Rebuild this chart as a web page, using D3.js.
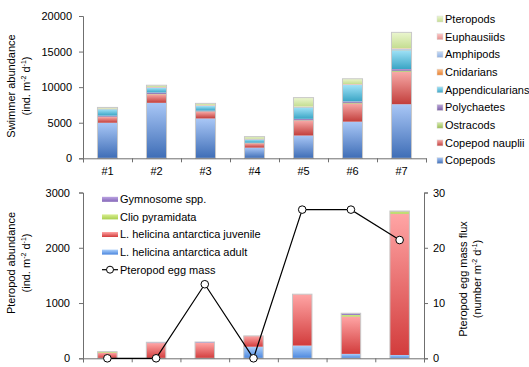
<!DOCTYPE html>
<html><head><meta charset="utf-8">
<script src="https://cdn.jsdelivr.net/npm/d3@7"></script>
<style>
body{margin:0;background:#fff;}
svg{display:block;font-family:"Liberation Sans",Arial,sans-serif;}
</style></head>
<body>
<svg id="chart" width="529" height="367"></svg>
<script>
// ---------- DATA ----------
const stations = ["#1","#2","#3","#4","#5","#6","#7"];
const swimmerSeries = ["Copepods","Copepod nauplii","Ostracods","Polychaetes","Appendicularians","Cnidarians","Amphipods","Euphausiids","Pteropods"];
const copepods        = [5000, 7800, 5600, 1500, 3200, 5150, 7600];
const copepodNauplii  = [800, 1200, 950, 600, 2100, 2550, 4550];
const ostracods       = [50, 50, 50, 30, 50, 100, 150];
const polychaetes     = [150, 200, 100, 60, 200, 200, 250];
const appendicularians= [900, 650, 650, 450, 1600, 2300, 2650];
const cnidarians      = [20, 20, 20, 20, 30, 30, 50];
const amphipods       = [30, 50, 50, 30, 50, 50, 100];
const euphausiids     = [50, 50, 50, 60, 50, 50, 100];
const pteropods       = [150, 250, 250, 300, 1250, 750, 2250];
const swimmerTicks = [0, 5000, 10000, 15000, 20000];

const pteropodSeries = ["L. helicina antarctica adult","L. helicina antarctica juvenile","Clio pyramidata","Gymnosome spp."];
const lhAdult    = [0, 0, 0, 210, 230, 80, 60];
const lhJuvenile = [100, 275, 280, 195, 930, 675, 2555];
const clio       = [15, 0, 0, 0, 0, 30, 45];
const gymnosome  = [5, 15, 15, 0, 0, 30, 5];
const eggMass    = [0, 0, 13.4, 0, 26.9, 26.9, 21.4];
const pteropodTicks = [0, 1000, 2000, 3000];
const eggTicks = [0, 10, 20, 30];

// ---------- STYLE ----------
const swimmerColors = {
  "Copepods":["#a9c7f6","#3e6db6"],
  "Copepod nauplii":["#f7a9a7","#c23e3b"],
  "Ostracods":["#d9eeb0","#99bb55"],
  "Polychaetes":["#bba6da","#7a5fa6"],
  "Appendicularians":["#a0e2f7","#3aa5c5"],
  "Cnidarians":["#fcc08c","#e88030"],
  "Amphipods":["#c8dcf6","#8eafe0"],
  "Euphausiids":["#fbc6c5","#e48e8c"],
  "Pteropods":["#ebf6cf","#c4dd90"]
};
const pteropodColors = {
  "L. helicina antarctica adult":["#acd0fb","#4a86de"],
  "L. helicina antarctica juvenile":["#ffa5a5","#d23c3c"],
  "Clio pyramidata":["#d8ee90","#a9cf4f"],
  "Gymnosome spp.":["#bba3e2","#8466b8"]
};

const svg = d3.select("#chart");
const defs = svg.append("defs");
function grad(id, c){
  const g = defs.append("linearGradient").attr("id",id).attr("x1",0).attr("y1",0).attr("x2",0).attr("y2",1);
  g.append("stop").attr("offset","0%").attr("stop-color",c[0]);
  g.append("stop").attr("offset","100%").attr("stop-color",c[1]);
}
swimmerSeries.forEach((s,i)=>grad("sg"+i, swimmerColors[s]));
pteropodSeries.forEach((s,i)=>grad("pg"+i, pteropodColors[s]));

const FS = 11;
const axisCol = "#6f6f6f";

// ---------- TOP CHART ----------
const swimmerData = [copepods,copepodNauplii,ostracods,polychaetes,appendicularians,cnidarians,amphipods,euphausiids,pteropods];
const rowsTop = stations.map((st,i)=>{const o={station:st}; swimmerSeries.forEach((s,k)=>o[s]=swimmerData[k][i]); return o;});
const stackTop = d3.stack().keys(swimmerSeries)(rowsTop);

const xT = d3.scaleBand().domain(stations).range([83,426]).paddingInner(0.59).paddingOuter(0.295);
const yT = d3.scaleLinear().domain([0,20000]).range([158.3,16]);
const xTb = d3.scaleLinear().domain([0,7]).range([83,426]);

const gTop = svg.append("g");
stackTop.forEach((layer,k)=>{
  gTop.selectAll(null).data(layer).join("rect")
    .attr("x",d=>xT(d.data.station)).attr("width",xT.bandwidth())
    .attr("y",d=>yT(d[1])).attr("height",d=>Math.max(0,yT(d[0])-yT(d[1])))
    .attr("fill","url(#sg"+k+")");
});
const topLayer = stackTop[stackTop.length-1];
gTop.selectAll(null).data(topLayer).join("rect")
  .attr("x",d=>xT(d.data.station)).attr("width",xT.bandwidth())
  .attr("y",d=>yT(d[1])).attr("height",d=>yT(0)-yT(d[1]))
  .attr("fill","none").attr("stroke","#c8c8c8").attr("stroke-width",1);

const yAxT = svg.append("g").attr("transform","translate(83,0)")
  .call(d3.axisLeft(yT).tickValues(swimmerTicks).tickSize(4).tickPadding(7).tickFormat(d3.format("d")));
const xAxT = svg.append("g").attr("transform","translate(0,158.3)")
  .call(d3.axisBottom(xTb).ticks(7).tickSize(4).tickFormat(""));
const xLabT = svg.append("g").attr("transform","translate(0,158.3)")
  .call(d3.axisBottom(xT).tickSize(0).tickPadding(9));
xLabT.select(".domain").remove();
[yAxT,xAxT,xLabT].forEach(g=>{
  g.selectAll(".domain").attr("stroke",axisCol);
  g.selectAll(".tick line").attr("stroke",axisCol);
  g.selectAll("text").attr("font-size",FS).attr("fill","#000").attr("font-family","Liberation Sans, Arial, sans-serif");
});

function supTitle(g, line1, line2pre, x1, x2, cy, rot){
  g.append("text").attr("transform",`translate(${x1},${cy}) rotate(${rot})`)
    .attr("text-anchor","middle").attr("font-size",FS).text(line1);
  const t2 = g.append("text").attr("transform",`translate(${x2},${cy}) rotate(${rot})`)
    .attr("text-anchor","middle").attr("font-size",FS);
  t2.append("tspan").text(line2pre+" m");
  t2.append("tspan").attr("font-size",7).attr("dy",-4).text("-2");
  t2.append("tspan").attr("dy",4).text(" d");
  t2.append("tspan").attr("font-size",7).attr("dy",-4).text("-1");
  t2.append("tspan").attr("dy",4).text(")");
}
supTitle(svg, "Swimmer abundance", "(ind.", 15, 30, 86, -90);

const legT = svg.append("g");
swimmerSeries.slice().reverse().forEach((s,i)=>{
  const k = swimmerSeries.indexOf(s);
  const y = 19 + i*17.7;
  legT.append("rect").attr("x",437).attr("y",y-3).attr("width",6).attr("height",6)
    .attr("fill","url(#sg"+k+")").attr("stroke","#ddd").attr("stroke-width",0.5);
  legT.append("text").attr("x",445).attr("y",y).attr("dy","0.35em").attr("font-size",FS).text(s);
});

// ---------- BOTTOM CHART ----------
const pteroData = [lhAdult,lhJuvenile,clio,gymnosome];
const rowsBot = stations.map((st,i)=>{const o={station:st}; pteropodSeries.forEach((s,k)=>o[s]=pteroData[k][i]); return o;});
const stackBot = d3.stack().keys(pteropodSeries)(rowsBot);

const xB = d3.scaleBand().domain(stations).range([83,424]).paddingInner(0.6).paddingOuter(0.3);
const yB = d3.scaleLinear().domain([0,3000]).range([358.3,192.5]);
const yE = d3.scaleLinear().domain([0,30]).range([358.3,192.5]);
const xBb = d3.scaleLinear().domain([0,7]).range([83,424]);

const gBot = svg.append("g");
stackBot.forEach((layer,k)=>{
  gBot.selectAll(null).data(layer).join("rect")
    .attr("x",d=>xB(d.data.station)).attr("width",xB.bandwidth())
    .attr("y",d=>yB(d[1])).attr("height",d=>Math.max(0,yB(d[0])-yB(d[1])))
    .attr("fill","url(#pg"+k+")");
});
const topLayerB = stackBot[stackBot.length-1];
gBot.selectAll(null).data(topLayerB).join("rect")
  .attr("x",d=>xB(d.data.station)).attr("width",xB.bandwidth())
  .attr("y",d=>yB(d[1])).attr("height",d=>yB(0)-yB(d[1]))
  .attr("fill","none").attr("stroke","#c8c8c8").attr("stroke-width",1);

const yAxB = svg.append("g").attr("transform","translate(83,0)")
  .call(d3.axisLeft(yB).tickValues(pteropodTicks).tickSize(4).tickPadding(9).tickFormat(d3.format("d")));
const yAxE = svg.append("g").attr("transform","translate(424,0)")
  .call(d3.axisRight(yE).tickValues(eggTicks).tickSize(4).tickPadding(5).tickFormat(d3.format("d")));
const xAxB = svg.append("g").attr("transform","translate(0,358.3)")
  .call(d3.axisBottom(xBb).ticks(7).tickSize(4).tickFormat(""));
[yAxB,yAxE,xAxB].forEach(g=>{
  g.selectAll(".domain").attr("stroke",axisCol);
  g.selectAll(".tick line").attr("stroke",axisCol);
  g.selectAll("text").attr("font-size",FS).attr("fill","#000").attr("font-family","Liberation Sans, Arial, sans-serif");
});

const cx = d=>xB(d.station)+xB.bandwidth()/2;
const eggPts = stations.map((st,i)=>({station:st, v:eggMass[i]}));
svg.append("path").datum(eggPts)
  .attr("d", d3.line().x(cx).y(d=>yE(d.v)))
  .attr("fill","none").attr("stroke","#000").attr("stroke-width",1.2);
svg.selectAll(null).data(eggPts).join("circle")
  .attr("cx",cx).attr("cy",d=>yE(d.v)).attr("r",3.8)
  .attr("fill","#fff").attr("stroke","#000").attr("stroke-width",1);

supTitle(svg, "Pteropod abundance", "(ind.", 15, 30, 263, -90);
const rt1 = svg.append("text").attr("transform","translate(467,279) rotate(-90)")
  .attr("text-anchor","middle").attr("font-size",FS).text("Pteropod egg mass flux");
const rt2 = svg.append("text").attr("transform","translate(481,279) rotate(-90)")
  .attr("text-anchor","middle").attr("font-size",FS);
rt2.append("tspan").text("(number m");
rt2.append("tspan").attr("font-size",7).attr("dy",-4).text("-2");
rt2.append("tspan").attr("dy",4).text(" d");
rt2.append("tspan").attr("font-size",7).attr("dy",-4).text("-1");
rt2.append("tspan").attr("dy",4).text(")");

const legB = svg.append("g");
pteropodSeries.slice().reverse().forEach((s,i)=>{
  const k = pteropodSeries.indexOf(s);
  const y = 199.3 + i*17.6;
  legB.append("rect").attr("x",102).attr("y",y-2.5).attr("width",16).attr("height",5)
    .attr("fill","url(#pg"+k+")");
  legB.append("text").attr("x",120).attr("y",y).attr("dy","0.35em").attr("font-size",FS).text(s);
});
const ly = 199.3 + 4*17.6;
legB.append("line").attr("x1",102).attr("x2",118).attr("y1",ly).attr("y2",ly).attr("stroke","#000").attr("stroke-width",1.2);
legB.append("circle").attr("cx",110).attr("cy",ly).attr("r",3.5).attr("fill","#fff").attr("stroke","#000");
legB.append("text").attr("x",120).attr("y",ly).attr("dy","0.35em").attr("font-size",FS).text("Pteropod egg mass");
</script>
</body></html>
